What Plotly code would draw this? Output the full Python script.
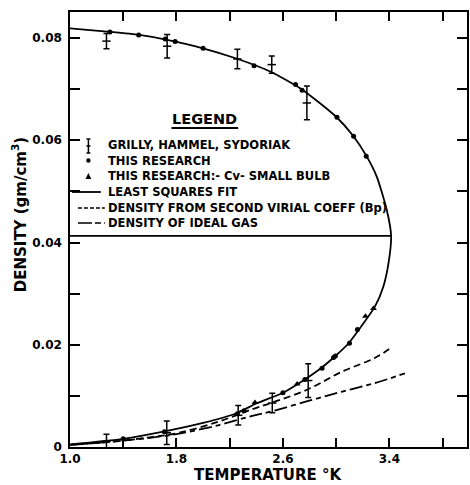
import plotly.graph_objects as go

# ---------------- data ----------------
# least squares fit curve: liquid branch then vapour branch
fit_T = [1.00, 1.30, 1.52, 1.72, 2.00, 2.25, 2.50, 2.74, 3.00, 3.13, 3.226, 3.305, 3.38, 3.413,
         3.393, 3.355, 3.29, 3.20, 3.094, 2.994, 2.89, 2.77, 2.60, 2.40, 2.25, 2.00, 1.72, 1.40, 1.00]
fit_rho = [0.0819, 0.0812, 0.0806, 0.0797, 0.0780, 0.0760, 0.0735, 0.0700, 0.0646, 0.0608, 0.0570,
           0.0529, 0.0464, 0.0413,
           0.0359, 0.0314, 0.0274, 0.0240, 0.0203, 0.0178, 0.0155, 0.0133, 0.0106, 0.0085, 0.0066,
           0.0047, 0.0031, 0.0016, 0.0005]

# Grilly, Hammel, Sydoriak (with error bars)
grilly_T = [1.274, 1.730, 2.258, 2.516, 2.780, 1.274, 1.727, 2.264, 2.520, 2.790]
grilly_rho = [0.0794, 0.0784, 0.0759, 0.0748, 0.0673, 0.0011, 0.0028, 0.0062, 0.0086, 0.0130]
grilly_err = [0.0015, 0.0023, 0.0019, 0.0017, 0.0033, 0.0014, 0.0023, 0.0019, 0.0019, 0.0033]

# This research (dots)
this_T = [1.30, 1.516, 1.716, 1.79, 2.00, 2.383, 2.695, 2.744, 3.006, 3.131, 3.226,
          1.40, 1.71, 2.258, 2.308, 2.60, 2.765, 2.894, 2.98, 2.994, 3.10, 3.16]
this_rho = [0.0812, 0.0806, 0.0798, 0.0793, 0.0780, 0.0746, 0.0709, 0.0698, 0.0645, 0.0608, 0.0569,
            0.0016, 0.0030, 0.0065, 0.0071, 0.0106, 0.0132, 0.0154, 0.0175, 0.0178, 0.0203, 0.0230]

# This research: Cv - small bulb (triangles)
cv_T = [2.39, 2.707, 3.22, 3.28]
cv_rho = [0.0087, 0.0123, 0.0256, 0.0271]

# Density from second virial coefficient
virial_T = [1.00, 1.30, 1.60, 1.82, 2.12, 2.37, 2.52, 2.79, 3.04, 3.29, 3.417]
virial_rho = [0.0004, 0.0010, 0.0019, 0.0028, 0.0050, 0.0074, 0.0087, 0.0113, 0.0147, 0.0174, 0.0195]

# Density of ideal gas
ideal_T = [1.00, 1.30, 1.60, 1.82, 2.12, 2.37, 2.52, 2.79, 3.04, 3.29, 3.517]
ideal_rho = [0.0004, 0.0010, 0.0018, 0.0026, 0.0043, 0.0061, 0.0070, 0.0090, 0.0108, 0.0125, 0.0144]

# critical point line
crit_T = [1.0, 3.413]
crit_rho = [0.0413, 0.0413]

x_ticks = [1.0, 1.8, 2.6, 3.4]
x_labels = ["1.0", "1.8", "2.6", "3.4"]
x_minor = [1.4, 2.2, 3.0, 3.8]
y_ticks = [0, 0.02, 0.04, 0.06, 0.08]
y_labels = ["0", "0.02", "0.04", "0.06", "0.08"]
y_minor = [0.01, 0.03, 0.05, 0.07]

legend_title = "LEGEND"
legend_texts = ["GRILLY, HAMMEL, SYDORIAK", "THIS RESEARCH", "THIS RESEARCH:- Cv- SMALL BULB",
                "LEAST SQUARES FIT", "DENSITY FROM SECOND VIRIAL COEFF (Bp)", "DENSITY OF IDEAL GAS"]

FONT = "DejaVu Sans"
W, H = 470, 485
L, R, T, B = 70, 1, 12, 38

fig = go.Figure()

fig.add_trace(go.Scatter(x=crit_T, y=crit_rho, mode="lines",
                         line=dict(color="black", width=1.8), hoverinfo="skip"))
fig.add_trace(go.Scatter(x=fit_T, y=fit_rho, mode="lines",
                         line=dict(color="black", width=1.8, shape="spline", smoothing=0.6)))
fig.add_trace(go.Scatter(x=virial_T, y=virial_rho, mode="lines",
                         line=dict(color="black", width=1.8, dash="7px,4px", shape="spline")))
fig.add_trace(go.Scatter(x=ideal_T, y=ideal_rho, mode="lines",
                         line=dict(color="black", width=1.8, dash="13px,4px,5px,4px", shape="spline")))
fig.add_trace(go.Scatter(x=grilly_T, y=grilly_rho, mode="markers",
                         marker=dict(symbol="line-ew", size=6, line=dict(color="black", width=1.5)),
                         error_y=dict(type="data", array=grilly_err, width=3, thickness=1.5, color="black")))
fig.add_trace(go.Scatter(x=this_T, y=this_rho, mode="markers",
                         marker=dict(symbol="circle", size=5, color="black")))
fig.add_trace(go.Scatter(x=cv_T, y=cv_rho, mode="markers",
                         marker=dict(symbol="triangle-up", size=6, color="black")))

pw, ph = W - L - R, H - T - B


def px(x):
    return (x - L) / pw


def py(y):
    return (H - B - y) / ph


shapes = []
annotations = []

# legend title + underline
annotations.append(dict(x=px(205.5), y=py(118.5), xref="paper", yref="paper", text=legend_title,
                        showarrow=False, xanchor="center", yanchor="middle",
                        font=dict(family=FONT, size=14.5, color="black", weight="bold")))
shapes.append(dict(type="line", xref="paper", yref="paper", x0=px(172), x1=px(239), y0=py(128), y1=py(128),
                   line=dict(color="black", width=2)))

rows = [145.5, 160.5, 176, 192, 208, 223]
for ty, txt in zip(rows, legend_texts):
    annotations.append(dict(x=px(106), y=py(ty), xref="paper", yref="paper", text=txt, showarrow=False,
                            xanchor="left", yanchor="middle",
                            font=dict(family=FONT, size=11.5, color="black", weight="bold")))

lw = dict(color="black", width=1.5)
# error bar symbol
shapes.append(dict(type="line", xref="paper", yref="paper", x0=px(88.5), x1=px(88.5), y0=py(139), y1=py(153), line=lw))
for yy in (139, 146, 153):
    shapes.append(dict(type="line", xref="paper", yref="paper", x0=px(86.5), x1=px(90.5), y0=py(yy), y1=py(yy), line=lw))
# dot
shapes.append(dict(type="circle", xref="paper", yref="paper", x0=px(86.3), x1=px(90.7), y0=py(158.3), y1=py(162.7),
                   fillcolor="black", line=dict(color="black", width=0)))
# triangle
shapes.append(dict(type="path", xref="paper", yref="paper",
                   path=f"M {px(85.5)} {py(179)} L {px(91.5)} {py(179)} L {px(88.5)} {py(173)} Z",
                   fillcolor="black", line=dict(color="black", width=0)))
# line samples
shapes.append(dict(type="line", xref="paper", yref="paper", x0=px(72), x1=px(101), y0=py(192), y1=py(192),
                   line=dict(color="black", width=1.8)))
shapes.append(dict(type="line", xref="paper", yref="paper", x0=px(78), x1=px(105), y0=py(208), y1=py(208),
                   line=dict(color="black", width=1.6, dash="4px,2px")))
shapes.append(dict(type="line", xref="paper", yref="paper", x0=px(78), x1=px(105), y0=py(223), y1=py(223),
                   line=dict(color="black", width=1.6, dash="14px,3px,6px,3px")))

# axis titles
annotations.append(dict(x=px(270), y=py(475), xref="paper", yref="paper", text="TEMPERATURE °K",
                        showarrow=False, xanchor="center", yanchor="middle",
                        font=dict(family=FONT, size=15, color="black", weight="bold")))
annotations.append(dict(x=px(19), y=py(215), xref="paper", yref="paper", text="DENSITY (gm/cm<sup>3</sup>)",
                        showarrow=False, xanchor="center", yanchor="middle", textangle=-90,
                        font=dict(family=FONT, size=15, color="black", weight="bold")))

fig.update_layout(
    width=W, height=H, margin=dict(l=L, r=R, t=T, b=B),
    paper_bgcolor="white", plot_bgcolor="white", showlegend=False,
    shapes=shapes, annotations=annotations,
    xaxis=dict(range=[1.0, 1.0 + pw / 133.75], tickvals=x_ticks, ticktext=x_labels,
               ticks="inside", ticklen=9, tickwidth=1.5, tickcolor="black",
               minor=dict(tickvals=x_minor, ticks="inside", ticklen=9, tickwidth=1.5, tickcolor="black"),
               showline=True, linecolor="black", linewidth=1.5, mirror="ticks",
               showgrid=False, zeroline=False,
               tickfont=dict(family=FONT, size=12, color="black", weight="bold")),
    yaxis=dict(range=[0, ph / 5112.0], tickvals=y_ticks, ticktext=y_labels,
               ticks="inside", ticklen=10, tickwidth=1.5, tickcolor="black",
               minor=dict(tickvals=y_minor, ticks="inside", ticklen=10, tickwidth=1.5, tickcolor="black"),
               showline=True, linecolor="black", linewidth=1.5, mirror="ticks",
               showgrid=False, zeroline=False, ticklabelstandoff=4,
               tickfont=dict(family=FONT, size=12, color="black", weight="bold")),
)

fig.write_html("out.html", config={"displayModeBar": False},
               post_script="document.body.style.margin='0';document.body.style.overflow='hidden';")
